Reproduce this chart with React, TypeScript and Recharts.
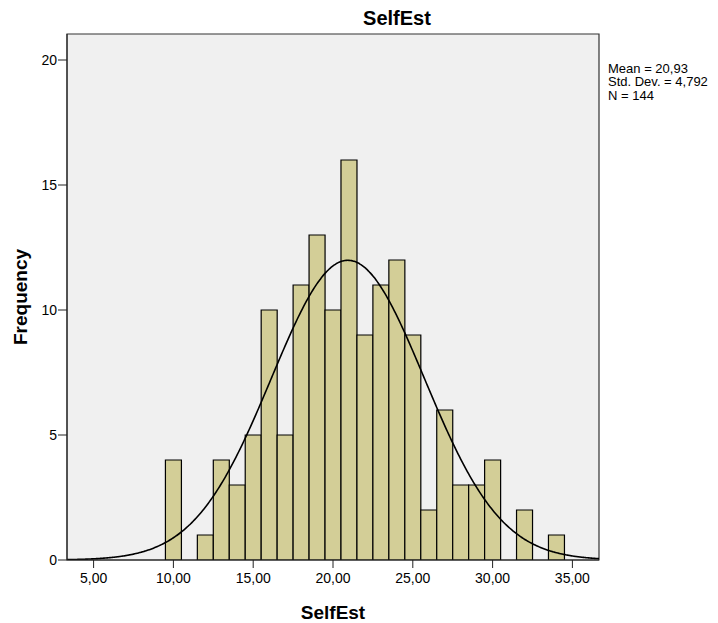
import React from "react";
import {
  ComposedChart,
  Bar,
  Line,
  XAxis,
  YAxis,
  CartesianGrid,
  ReferenceArea,
} from "recharts";

// ---- data ----
const BIN_CENTERS = [10, 12, 13, 14, 15, 16, 17, 18, 19, 20, 21, 22, 23, 24, 25, 26, 27, 28, 29, 30, 32, 34];
const FREQUENCIES = [4, 1, 4, 3, 5, 10, 5, 11, 13, 10, 16, 9, 11, 12, 9, 2, 6, 3, 3, 4, 2, 1];
const X_TICKS = [5, 10, 15, 20, 25, 30, 35];
const Y_TICKS = [0, 5, 10, 15, 20];
const STATS_LINES = ["Mean = 20,93", "Std. Dev. = 4,792", "N = 144"];
const MEAN = 20.93;
const SD = 4.792;
const N = 144;
const BIN_WIDTH = 1;
const X_DOMAIN = [3.333, 36.667];
const Y_DOMAIN = [0, 21.04];
const TITLE = "SelfEst";
const X_LABEL = "SelfEst";
const Y_LABEL = "Frequency";

// ---- layout ----
const W = 718;
const H = 623;
const MARGIN = { top: 34, right: 119, bottom: 0, left: 0 };
const Y_AXIS_W = 67;
const X_AXIS_H = 63;

const FONT = "'Liberation Sans', Arial, Helvetica, sans-serif";

const barData = BIN_CENTERS.map((x, i) => ({ x, count: FREQUENCIES[i] }));

// fitted normal curve (from the stated Mean / Std. Dev. / N)
const curveData: { x: number; y: number }[] = [];
for (let k = 0; k <= 400; k++) {
  const x = X_DOMAIN[0] + ((X_DOMAIN[1] - X_DOMAIN[0]) * k) / 400;
  const z = (x - MEAN) / SD;
  curveData.push({
    x,
    y: ((N * BIN_WIDTH) / (SD * Math.sqrt(2 * Math.PI))) * Math.exp(-0.5 * z * z),
  });
}

const fmt = (v: number) => v.toFixed(2).replace(".", ",");

export default function App() {
  return (
    <div style={{ position: "absolute", left: 0, top: 0, width: W, height: H, background: "#fff" }}>
      <ComposedChart
        width={W}
        height={H}
        data={barData}
        margin={MARGIN}
        barCategoryGap={0}
        barGap={0}
        style={{ fontFamily: FONT }}
      >
        <CartesianGrid horizontal={false} vertical={false} fill="#f0f0f0" stroke="none" />
        <XAxis
          xAxisId="bins"
          type="number"
          dataKey="x"
          domain={X_DOMAIN}
          allowDataOverflow
          ticks={X_TICKS}
          tickFormatter={fmt}
          height={X_AXIS_H}
          tickSize={8}
          tickMargin={5}
          axisLine={{ stroke: "#222" }}
          tickLine={{ stroke: "#222" }}
          tick={{ fill: "#000", fontSize: 14, fontFamily: FONT }}
        />
        <XAxis
          xAxisId="curve"
          type="number"
          dataKey="x"
          domain={X_DOMAIN}
          allowDataOverflow
          hide
          height={0}
        />
        <YAxis
          type="number"
          domain={Y_DOMAIN}
          allowDataOverflow
          ticks={Y_TICKS}
          width={Y_AXIS_W}
          tickSize={9}
          tickMargin={1}
          axisLine={{ stroke: "#222" }}
          tickLine={{ stroke: "#222" }}
          tick={{ fill: "#000", fontSize: 14, fontFamily: FONT }}
        />
        <Bar
          xAxisId="bins"
          dataKey="count"
          fill="#d3ce97"
          stroke="#000"
          strokeWidth={1.2}
          isAnimationActive={false}
        />
        <Line
          xAxisId="curve"
          data={curveData}
          dataKey="y"
          type="monotone"
          stroke="#000"
          strokeWidth={1.6}
          dot={false}
          activeDot={false}
          isAnimationActive={false}
        />
        <ReferenceArea
          xAxisId="bins"
          x1={X_DOMAIN[0]}
          x2={X_DOMAIN[1]}
          y1={Y_DOMAIN[0]}
          y2={Y_DOMAIN[1]}
          fill="none"
          stroke="#333"
          strokeWidth={1.2}
          ifOverflow="visible"
        />
        <text x={397} y={25} textAnchor="middle" fontSize={20} fontWeight="bold" fontFamily={FONT} fill="#000">
          {TITLE}
        </text>
        <text x={333} y={619} textAnchor="middle" fontSize={19} fontWeight="bold" fontFamily={FONT} fill="#000">
          {X_LABEL}
        </text>
        <text
          x={27}
          y={297}
          textAnchor="middle"
          fontSize={19}
          fontWeight="bold"
          fontFamily={FONT}
          fill="#000"
          transform="rotate(-90 27 297)"
        >
          {Y_LABEL}
        </text>
        {STATS_LINES.map((s, i) => (
          <text key={s} x={608} y={72.5 + i * 13.5} fontSize={13} fontFamily={FONT} fill="#000">
            {s}
          </text>
        ))}
      </ComposedChart>
    </div>
  );
}
